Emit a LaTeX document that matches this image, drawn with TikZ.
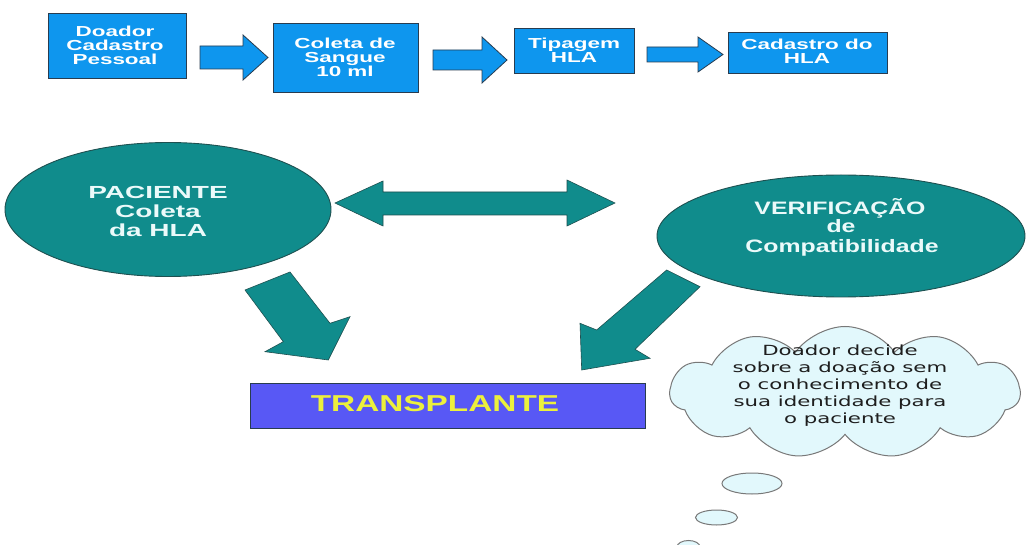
\documentclass[tikz,border=0pt]{standalone}
\usepackage{fontspec}
\setmainfont{Liberation Sans}
\newfontfamily\boxfont[FakeStretch=1.55]{Liberation Sans}
\newfontfamily\pacfont[FakeStretch=1.6]{Liberation Sans}
\newfontfamily\verfont[FakeStretch=1.38]{Liberation Sans}
\newfontfamily\trfont[FakeStretch=1.45]{Liberation Sans}
\newfontfamily\cloudfont[FakeStretch=1.52]{DejaVu Sans}
\usetikzlibrary{shapes.geometric,shapes.symbols}
\definecolor{boxblue}{RGB}{14,150,238}
\definecolor{boxedge}{RGB}{40,60,80}
\definecolor{tealc}{RGB}{16,140,140}
\definecolor{tealedge}{RGB}{30,80,80}
\definecolor{trblue}{RGB}{88,88,245}
\definecolor{tryellow}{RGB}{236,240,60}
\definecolor{cloudfill}{RGB}{226,248,252}
\definecolor{cloudedge}{RGB}{120,120,120}
\definecolor{paletext}{RGB}{235,250,250}
\definecolor{darktext}{RGB}{30,30,30}
\begin{document}
\begin{tikzpicture}[x=1pt,y=-1pt,
  bluebox/.style={draw=boxedge,line width=1pt,fill=boxblue,inner sep=0pt},
  bluetext/.style={text=white,align=center,inner sep=0pt,font=\boxfont\bfseries\fontsize{14.5}{14}\selectfont},
  bluearrow/.style={draw=boxedge,line width=0.8pt,fill=boxblue},
  tealshape/.style={draw=tealedge,line width=0.6pt,fill=tealc},
  tealellipse/.style={ellipse,draw=tealedge,line width=0.9pt,fill=tealc,inner sep=0pt},
  vertext/.style={text=paletext,inner sep=0pt,anchor=base,font=\verfont\bfseries\fontsize{18}{19}\selectfont},
  bubble/.style={ellipse,draw=cloudedge,line width=1pt,fill=cloudfill,inner sep=0pt}]
\useasboundingbox[fill=white] (0,0) rectangle (1026,545);

% top row boxes
\node[bluebox,minimum width=138pt,minimum height=65pt] (b1) at (117,46.5) {};
\node[bluetext] (t1) at (115,45) {Doador\\Cadastro\\Pessoal};
\node[bluebox,minimum width=145pt,minimum height=69pt] (b2) at (345.5,58.5) {};
\node[bluetext] (t2) at (345,57) {Coleta de\\Sangue\\10 ml};
\node[bluebox,minimum width=120pt,minimum height=45pt] (b3) at (574,51.5) {};
\node[bluetext] (t3) at (574,50) {Tipagem\\HLA};
\node[bluebox,minimum width=159pt,minimum height=41pt] (b4) at (807.5,53.5) {};
\node[bluetext] (t4) at (807,51) {Cadastro do\\HLA};

% top arrows
\draw[bluearrow] (200,46) -- (243,46) -- (243,35) -- (268,57.5) -- (243,80) -- (243,69) -- (200,69) -- cycle;
\draw[bluearrow] (433,50) -- (482,50) -- (482,37) -- (507,60) -- (482,83) -- (482,70) -- (433,70) -- cycle;
\draw[bluearrow] (647,47) -- (698,47) -- (698,37) -- (723,54.5) -- (698,72) -- (698,62) -- (647,62) -- cycle;

% ellipses
\node[tealellipse,minimum width=326pt,minimum height=134pt] (pac) at (168,209.5) {};
\node[text=paletext,align=center,inner sep=0pt,font=\pacfont\bfseries\fontsize{17.5}{19}\selectfont] (pact) at (158,211) {PACIENTE\\Coleta\\da HLA};
\node[tealellipse,minimum width=368pt,minimum height=122pt] (ver) at (841,236) {};
\node[vertext] (ver1) at (840,214.5) {VERIFICAÇÃO};
\node[vertext] (ver2) at (841,233) {de};
\node[vertext] (ver3) at (842,253) {Compatibilidade};

% double arrow
\draw[tealshape] (335,203) -- (383,181) -- (383,192) -- (567,192) -- (567,180) -- (615,203)
  -- (567,226) -- (567,215) -- (383,215) -- (383,226) -- cycle;

% diagonal arrows
\draw[tealshape] (245,290) -- (290,272) -- (330,323.3) -- (350,316.7) -- (328.3,360) -- (265,351.7) -- (283.3,341.7) -- cycle;
\draw[tealshape] (666.7,270) -- (700,286.7) -- (635,349.3) -- (650,358.3) -- (581.7,370) -- (580,323.3) -- (596.7,330) -- cycle;

% transplante
\node[draw=boxedge,line width=1pt,fill=trblue,minimum width=395pt,minimum height=44pt,inner sep=0pt] (tr) at (447.5,406) {};
\node[text=tryellow,inner sep=0pt,font=\trfont\bfseries\fontsize{23}{23}\selectfont] (trt) at (435,404) {TRANSPLANTE};

% cloud
\node[cloud,cloud puffs=11,cloud puff arc=110,aspect=2.6,draw=cloudedge,line width=1pt,fill=cloudfill,
  minimum width=350pt,minimum height=132pt,inner sep=0pt] (cl) at (845,392.5) {};
\node[text=darktext,align=center,inner sep=0pt,font=\cloudfont\fontsize{14}{17}\selectfont] (clt) at (840,386) {Doador decide\\sobre a doação sem\\o conhecimento de\\sua identidade para\\o paciente};
\node[bubble,minimum width=60pt,minimum height=21pt] (bub1) at (752,483.5) {};
\node[bubble,minimum width=42pt,minimum height=15pt] (bub2) at (716.5,517.5) {};
\node[bubble,minimum width=23pt,minimum height=13pt] (bub3) at (688.5,547) {};
\end{tikzpicture}
\end{document}
